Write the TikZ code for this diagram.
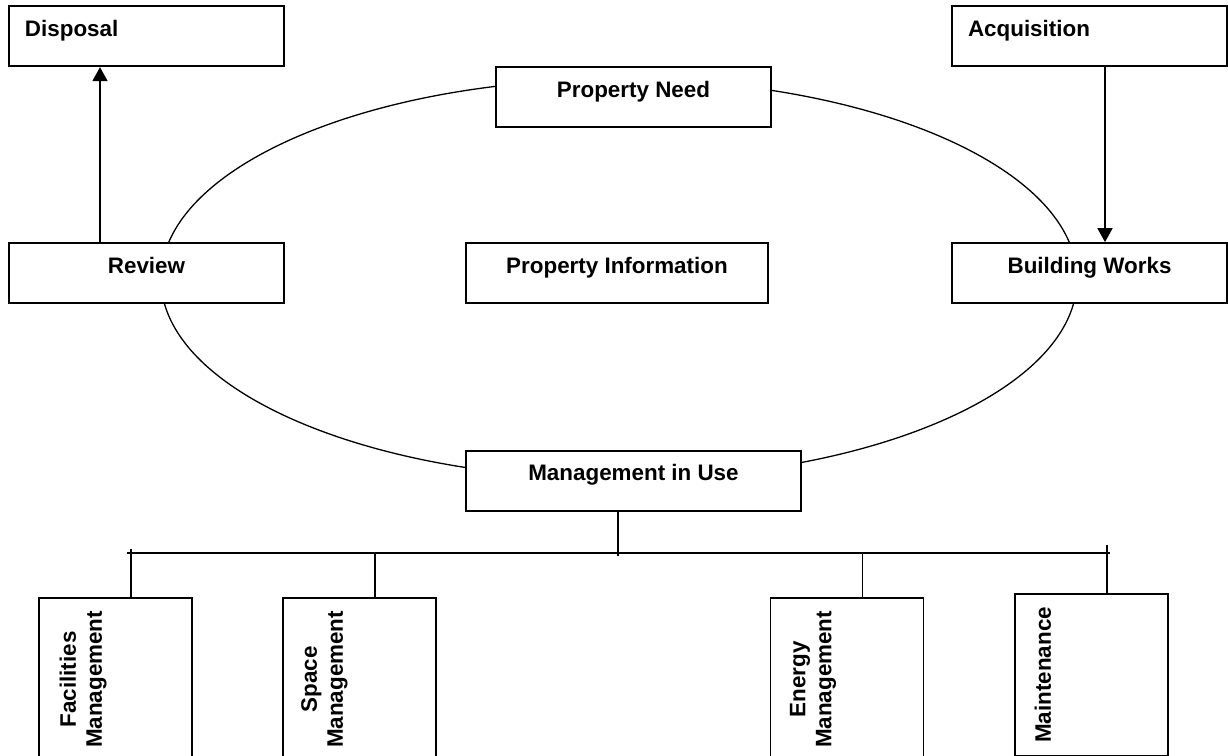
\documentclass[tikz,border=0pt]{standalone}
\usepackage{fontspec}
\setmainfont{Liberation Sans}
\usetikzlibrary{positioning,arrows.meta}

\begin{document}
\begin{tikzpicture}[
    x=0.5pt, y=-0.5pt,
    font=\fontsize{11.2pt}{13pt}\selectfont\bfseries,
    box/.style={rectangle, draw=black, fill=white, line width=0.85pt, inner sep=0pt, text height=15pt, text depth=15pt, minimum width=137.5pt},
    leftbox/.style={box, inner xsep=8pt, text width=121.5pt, align=left},
    vbox/.style={rectangle, draw=black, fill=white, line width=0.85pt, inner sep=0pt, minimum width=76.5pt, minimum height=81.5pt, anchor=north},
    vtext/.style={rotate=90, anchor=north, align=center, inner sep=0pt},
    cycleline/.style={line width=0.65pt},
    branch/.style={line width=0.85pt},
    arrow/.style={-{Triangle[length=7pt, width=7.5pt]}, line width=0.85pt}
]

\useasboundingbox (0,0) rectangle (1228,756);
\clip (0,0) rectangle (1228,756);

% property cycle
\draw[cycleline] (619,279) ellipse [x radius=229pt, y radius=100pt];

\node[box] (need) at (633.5,97) {Property Need};
\node[box] (review) at (146.5,273) {Review};
\node[box, minimum width=151pt] (info) at (617,273) {Property Information};
\node[box] (works) at (1089.5,273) {Building Works};

\node[leftbox, above=87.5pt of review] (disposal) {Disposal};
\node[leftbox, above=87.5pt of works] (acquis) {Acquisition};

\node[box, minimum width=167.5pt, below=161pt of need] (mgmt) {Management in Use};

\draw[arrow] ([xshift=-23.25pt]review.north) -- ([xshift=-23.25pt]disposal.south);
\draw[arrow] ([xshift=7.75pt]acquis.south) -- ([xshift=7.75pt]works.north);

% management branches
\coordinate (busL) at (127,553);
\coordinate (busR) at (1110,553);
\draw[branch] ([xshift=-7.75pt]mgmt.south) -- ++(0,-22pt);
\draw[branch] (busL) -- (busR);

\node[vbox] (facil) at (115.5,597) {};
\node[vbox, right=44.5pt of facil] (space) {};
\node[vbox, right=166.5pt of space] (energy) {};
\node[vbox, minimum height=81pt, right=45pt of energy, yshift=2.25pt] (maint) {};

\node[vtext] (faciltext) at ([xshift=10.5pt]facil.west) {Facilities\\Management};
\node[vtext] (spacetext) at ([xshift=9.5pt]space.west) {Space\\Management};
\node[vtext] (energytext) at ([xshift=10pt]energy.west) {Energy\\Management};
\node[vtext] (mainttext) at ([xshift=10pt]maint.west) {Maintenance};

\draw[branch] ([xshift=7.75pt]facil.north) -- ++(0,24pt);
\draw[branch] ([xshift=7.75pt]space.north) -- ++(0,22pt);
\draw[branch] ([xshift=7.75pt]energy.north) -- ++(0,22pt);
\draw[branch] ([xshift=7.75pt]maint.north) -- ++(0,24pt);

\end{tikzpicture}
\end{document}
